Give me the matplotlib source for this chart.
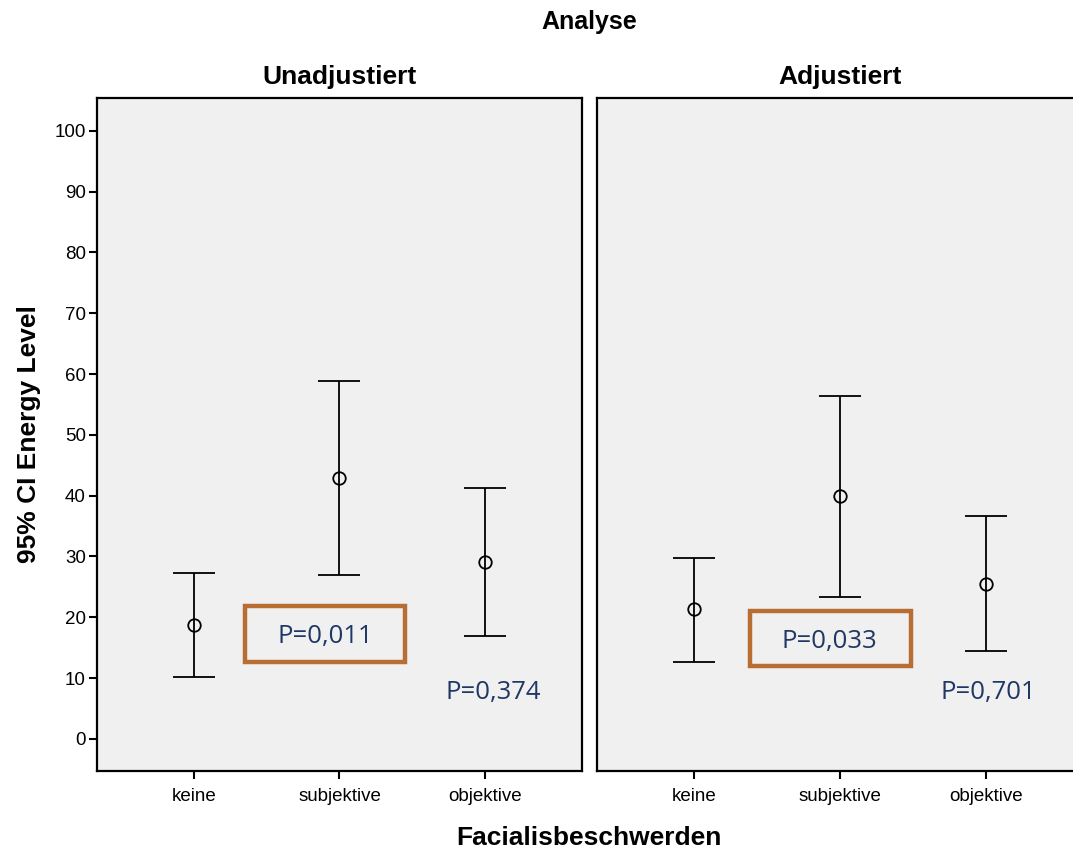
import matplotlib
matplotlib.use("Agg")
import matplotlib.pyplot as plt
from matplotlib.patches import Rectangle
import numpy as np

plt.rcParams['font.family'] = ['Liberation Sans', 'DejaVu Sans']

categories = ["keine", "subjektive", "objektive"]
panels = ["Unadjustiert", "Adjustiert"]

# mean and 95% CI per panel
mean_unadj = [18.7, 42.9, 29.1]
lower_unadj = [10.2, 27.0, 16.9]
upper_unadj = [27.3, 58.9, 41.3]

mean_adj = [21.3, 39.9, 25.5]
lower_adj = [12.7, 23.4, 14.4]
upper_adj = [29.8, 56.4, 36.6]

p_box = ["P=0,011", "P=0,033"]
p_plain = ["P=0,374", "P=0,701"]

series = [(mean_unadj, lower_unadj, upper_unadj), (mean_adj, lower_adj, upper_adj)]

fig = plt.figure(figsize=(10.73, 8.5), dpi=100)
ax_l = fig.add_axes([0.0904, 0.0929, 0.452, 0.7918])
ax_r = fig.add_axes([0.5564, 0.0929, 0.4529, 0.7918])
axes = [ax_l, ax_r]

txt_col = "#203864"
box_col = "#b86d33"
box_pos = [(0.305, 0.162, 0.330, 0.083), (0.315, 0.156, 0.331, 0.082)]
box_txt = [(0.90, 16.8), (0.93, 16.0)]
plain_txt = [(2.06, 7.6), (2.02, 7.6)]

x = np.arange(len(categories))
for i, ax in enumerate(axes):
    m, lo, hi = series[i]
    m = np.array(m); lo = np.array(lo); hi = np.array(hi)
    ax.set_facecolor("#f0f0f0")
    ax.errorbar(x, m, yerr=[m - lo, hi - m], fmt="o", mfc="none", mec="black",
                ms=9, mew=1.3, ecolor="black", elinewidth=1.3, capsize=15,
                capthick=1.3)
    ax.set_xlim(-0.667, 2.667)
    ax.set_ylim(-5.3, 105.4)
    ax.set_xticks(x)
    ax.set_xticklabels(categories, fontsize=13.5)
    ax.set_title(panels[i], fontsize=19, fontweight="bold", pad=10)
    for s in ax.spines.values():
        s.set_linewidth(1.6)
    ax.tick_params(axis="x", length=6, width=1.5, pad=6)
    ax.tick_params(axis="y", length=6, width=1.5, labelsize=13.5, pad=2)
    ax.add_patch(Rectangle(box_pos[i][:2], box_pos[i][2], box_pos[i][3],
                           transform=ax.transAxes, fill=False,
                           edgecolor=box_col, linewidth=3.2, zorder=3))
    ax.text(*box_txt[i], p_box[i], ha="center", va="center", fontsize=18.5,
            color=txt_col, family=["Open Sans", "DejaVu Sans"])
    ax.text(*plain_txt[i], p_plain[i], ha="center", va="center", fontsize=18.5,
            color=txt_col, family=["Open Sans", "DejaVu Sans"])

ax_l.set_yticks(np.arange(0, 101, 10))
ax_r.set_yticks([])
ax_l.set_ylabel("95% CI Energy Level", fontsize=19, fontweight="bold", labelpad=10)

fig.text(0.549, 0.974, "Analyse", ha="center", va="center", fontsize=18, fontweight="bold")
fig.text(0.549, 0.014, "Facialisbeschwerden", ha="center", va="center", fontsize=19,
         fontweight="bold")

fig.savefig("out.png", dpi=100)
